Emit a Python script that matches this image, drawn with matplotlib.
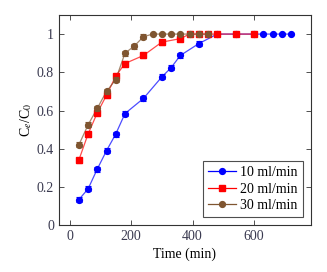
import matplotlib
matplotlib.use("Agg")
import matplotlib.pyplot as plt
import numpy as np

plt.rcParams['font.family'] = ['Liberation Serif', 'DejaVu Serif']
plt.rcParams['mathtext.fontset'] = 'stix'

t10 = [30, 60, 90, 120, 150, 180, 240, 300, 330, 360, 420, 480, 540, 600, 630, 660, 690, 720]
c10 = [0.134, 0.19, 0.294, 0.39, 0.477, 0.584, 0.663, 0.776, 0.824, 0.888, 0.95, 1.0, 1.0, 1.0, 1.0, 1.0, 1.0, 1.0]

t20 = [30, 60, 90, 120, 150, 180, 240, 300, 360, 390, 420, 450, 480, 540, 600]
c20 = [0.341, 0.477, 0.588, 0.68, 0.78, 0.846, 0.888, 0.958, 0.976, 1.0, 1.0, 1.0, 1.0, 1.0, 1.0]

t30 = [30, 60, 90, 120, 150, 180, 210, 240, 270, 300, 330, 360, 390, 420, 450]
c30 = [0.42, 0.525, 0.612, 0.70, 0.762, 0.90, 0.937, 0.986, 1.0, 1.0, 1.0, 1.0, 1.0, 1.0, 1.0]

labels = ['10 ml/min', '20 ml/min', '30 ml/min']
colors = ['#0000ff', '#ff0000', '#7f5530']
markers = ['o', 's', 'o']

fig = plt.figure(figsize=(3.27, 2.72), dpi=100)
ax = fig.add_axes([0.180, 0.172, 0.771, 0.773])

series = [(t10, c10), (t20, c20), (t30, c30)]
for (t, c), lab, col, mk in zip(series, labels, colors, markers):
    t = np.array(t); c = np.array(c)
    ms = 4.0 if mk == 's' else 4.2
    ax.plot(t, c, color=col, lw=0.9, alpha=0.7, zorder=2)
    ax.plot(t, c, linestyle='none', marker=mk, ms=ms, color=col, mec=col, zorder=3)
    ax.plot([], [], color=col, lw=0.9, marker=mk, ms=ms, label=lab)
    m = c < 1.0
    ax.errorbar(t[m], c[m], yerr=0.013, fmt='none', ecolor=col, elinewidth=0.8,
                capsize=2.3, capthick=0.8, zorder=3)

ax.set_xlim(-35, 785)
ax.set_ylim(0, 1.1)
ax.set_xticks([0, 200, 400, 600])
ax.set_yticks([0, 0.2, 0.4, 0.6, 0.8, 1.0])
ax.set_yticklabels(['0', '0.2', '0.4', '0.6', '0.8', '1'])
ax.tick_params(direction='in', top=True, right=True, length=3.5, width=0.6,
               labelsize=10, colors='#333333', labelcolor='#3a3a50')
for s in ax.spines.values():
    s.set_linewidth(0.8)
    s.set_color('#333333')

ax.set_xlabel('Time (min)', fontsize=10, labelpad=3)
ax.set_ylabel('C$_e$/C$_0$', fontsize=10, labelpad=2)

leg = ax.legend(loc='lower right', fontsize=10, frameon=True, fancybox=False,
                edgecolor='#222222', handlelength=2.0, handletextpad=0.3,
                borderpad=0.35, labelspacing=0.25, borderaxespad=0.6)
leg.get_frame().set_linewidth(0.8)

fig.savefig('out.png', dpi=100)
